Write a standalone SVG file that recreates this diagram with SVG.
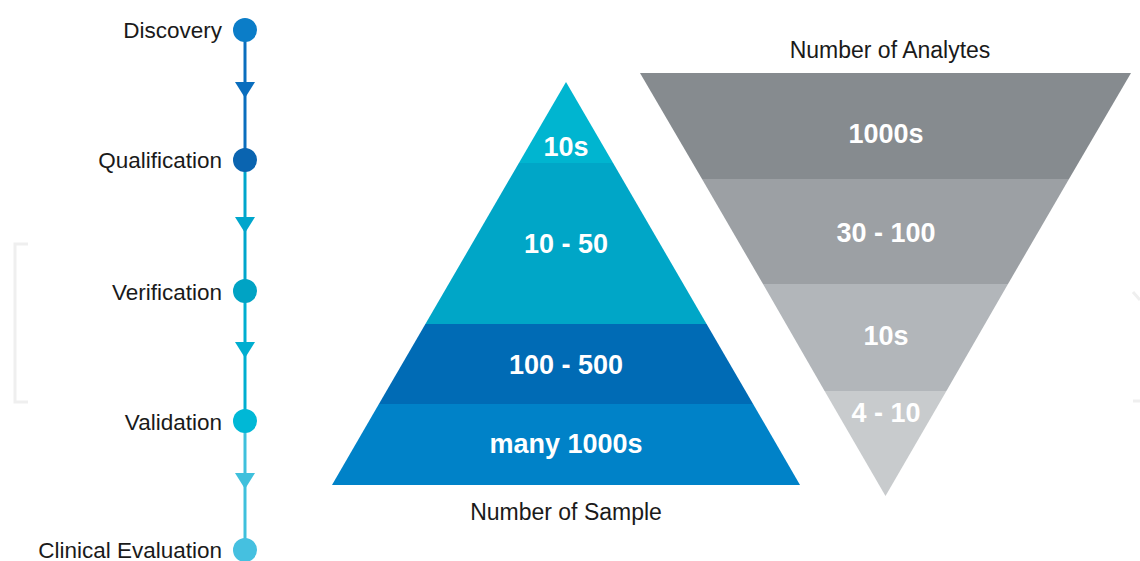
<svg xmlns="http://www.w3.org/2000/svg" width="1140" height="561" viewBox="0 0 1140 561">
<style>
.lbl{font-family:"Liberation Sans",Arial,sans-serif;font-size:22.5px;fill:#1a1a1a}
.ax{font-family:"Liberation Sans",Arial,sans-serif;font-size:23px;fill:#1a1a1a;text-anchor:middle}
.num{font-family:"Liberation Sans",Arial,sans-serif;font-size:27px;font-weight:bold;fill:#ffffff;text-anchor:middle}
.seg{stroke-width:3;fill:none}
.faint{stroke:#efefef;stroke-width:3;fill:none}
</style>
<rect width="1140" height="561" fill="#ffffff"/>
<g id="artifacts">
<path class="faint" d="M28 244 H15 V402 H28"/>
<path class="faint" d="M1133 292 L1140 300 M1133 401 H1140"/>
</g>
<g id="connectors">
<line class="seg" x1="245" y1="30" x2="245" y2="160" stroke="#0a6ebe"/>
<polygon points="235,82 255,82 245,98" fill="#0a6ebe"/>
<line class="seg" x1="245" y1="160" x2="245" y2="291" stroke="#00a6cc"/>
<polygon points="235,217 255,217 245,233" fill="#00a6cc"/>
<line class="seg" x1="245" y1="291" x2="245" y2="421" stroke="#00aed0"/>
<polygon points="235,342 255,342 245,358" fill="#00aed0"/>
<line class="seg" x1="245" y1="421" x2="245" y2="550" stroke="#3fc0dc"/>
<polygon points="235,473 255,473 245,489" fill="#3fc0dc"/>
</g>
<g id="discovery">
<circle cx="245" cy="30" r="12" fill="#0b7dc8"/>
<text class="lbl" x="222" y="38" text-anchor="end">Discovery</text>
</g>
<g id="qualification">
<circle cx="245" cy="160" r="12" fill="#0a64b0"/>
<text class="lbl" x="222" y="168" text-anchor="end">Qualification</text>
</g>
<g id="verification">
<circle cx="245" cy="291" r="12" fill="#00a3c4"/>
<text class="lbl" x="222" y="300" text-anchor="end">Verification</text>
</g>
<g id="validation">
<circle cx="245" cy="421" r="12" fill="#00b8d6"/>
<text class="lbl" x="222" y="430" text-anchor="end">Validation</text>
</g>
<g id="clinical-evaluation">
<circle cx="245" cy="550" r="12" fill="#45c0e0"/>
<text class="lbl" x="222" y="558" text-anchor="end">Clinical Evaluation</text>
</g>
<g id="sample-pyramid">
<!-- apex (566,82), base y=485 from 332 to 800; halfwidth at y: 234*(y-82)/403 -->
<polygon points="566,82 613.1,163 518.9,163" fill="#00b5d0"/>
<polygon points="518.9,163 613.1,163 706.6,324 425.4,324" fill="#00a6c7"/>
<polygon points="425.4,324 706.6,324 753.1,404 378.9,404" fill="#006bb5"/>
<polygon points="378.9,404 753.1,404 800,485 332,485" fill="#0082c8"/>
<text class="num" x="566" y="156">10s</text>
<text class="num" x="566" y="253">10 - 50</text>
<text class="num" x="566" y="374">100 - 500</text>
<text class="num" x="566" y="453">many 1000s</text>
<text class="ax" x="566" y="520">Number of Sample</text>
</g>
<g id="analytes-funnel">
<!-- top y=73 from 640 to 1131, apex (885.5,496); halfwidth 245.5*(496-y)/423 -->
<polygon points="640,73 1131,73 1069,179 702,179" fill="#868b8f"/>
<polygon points="702,179 1069,179 1069,179 1069,179 1008,284 763,284" fill="#9ca0a4"/>
<polygon points="763,284 1008,284 946.4,391 824.6,391" fill="#b2b6ba"/>
<polygon points="824.6,391 946.4,391 885.5,496" fill="#c8cbcd"/>
<text class="num" x="886" y="143">1000s</text>
<text class="num" x="886" y="242">30 - 100</text>
<text class="num" x="886" y="345">10s</text>
<text class="num" x="886" y="422">4 - 10</text>
<text class="ax" x="890" y="58">Number of Analytes</text>
</g>
</svg>
